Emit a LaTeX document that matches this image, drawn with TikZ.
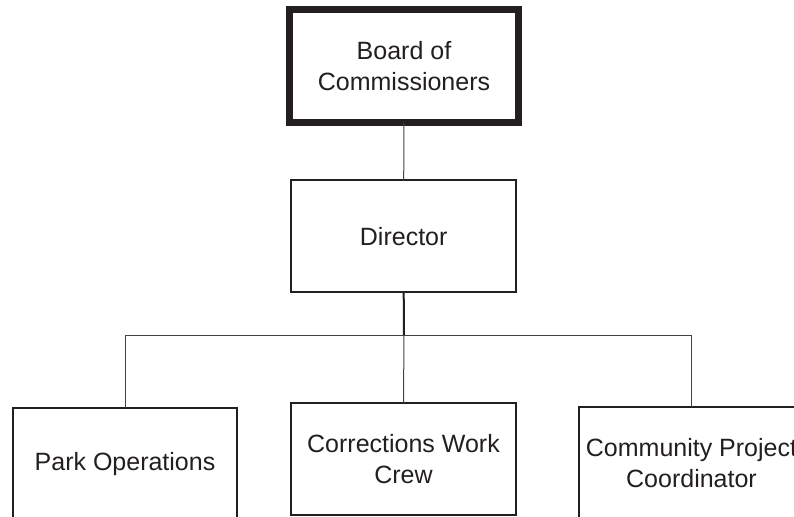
\documentclass[tikz,border=0pt]{standalone}
\usepackage{fontspec}
\setmainfont{Liberation Sans}
\definecolor{ink}{HTML}{231F20}
\begin{document}
\begin{tikzpicture}[x=0.75pt,y=-0.75pt,
  box/.style={draw=ink, line width=1.5pt, fill=white, inner sep=0pt, outer sep=0pt,
    minimum width=168.75pt, minimum height=84pt, align=center, text=ink,
    font=\fontsize{18.75pt}{23.25pt}\selectfont},
  topbox/.style={box, line width=5.25pt, minimum width=171.75pt, minimum height=85.3pt},
  conn/.style={draw=ink!85, line width=0.75pt},
  connthick/.style={draw=ink, line width=1.5pt}]
\useasboundingbox (0,0) rectangle (794,517);
\clip (0,0) rectangle (794,517);
\node[topbox] (board) at (404,66) {Board of\\Commissioners};
\node[box] (dir) at (403.7,236.3) {Director};
\node[box, minimum width=168pt] (park) at (125,464) {Park Operations};
\node[box] (corr) at (403.5,458.9) {Corrections Work\\Crew};
\node[box] (comm) at (691.5,463) {Community Project\\Coordinator};
\coordinate (bus) at (404,335);
\draw[conn] (board.south) -- (dir.north);
\draw[conn] (park.north) -- (park.north |- bus) -- (comm.north |- bus) -- (comm.north);
\draw[conn] (bus) -- (corr.north);
\draw[connthick] (dir.south) -- (bus);
\end{tikzpicture}
\end{document}
